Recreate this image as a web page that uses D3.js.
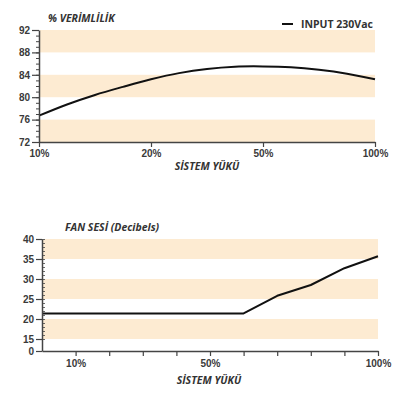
<!DOCTYPE html>
<html>
<head>
<meta charset="utf-8">
<script src="https://cdn.jsdelivr.net/npm/d3@7"></script>
<style>
  body { margin: 0; background: #fff; }
  svg { display: block; font-family: "Open Sans", sans-serif; }
  .tick text { font-size: 10px; font-weight: 700; fill: #3a3a3a; }
</style>
</head>
<body>
<div id="wrapper"></div>
<script>
// efficiency chart
const effTicks = ["10%", "20%", "50%", "100%"];
const effPos = [0, 0.25, 0.5, 0.75, 1, 1.25, 1.5, 1.75, 2, 2.25, 2.5, 2.75, 3];
const effValues = [76.7, 78.7, 80.4, 81.85, 83.2, 84.3, 85.05, 85.45, 85.5, 85.35, 84.9, 84.2, 83.2];
const effYTicks = [72, 76, 80, 84, 88, 92];
const effBands = [[72, 76], [80, 84], [88, 92]];

// fan noise chart
const fanLoad = [0, 60, 70, 80, 90, 100];
const fanValues = [21.4, 21.4, 25.8, 28.5, 32.7, 35.7];
const fanXTicks = [10, 20, 30, 40, 50, 60, 70, 80, 90, 100];
const fanXLabels = { 10: "10%", 50: "50%", 100: "100%" };
const fanYTicks = [0, 15, 20, 25, 30, 35, 40];
const fanBands = [[15, 20], [25, 30], [35, 40]];

const bandColor = "#fdebd2";
const axisColor = "#444";
const textColor = "#333";

const svg = d3.select("#wrapper").append("svg")
  .attr("width", 400)
  .attr("height", 396);

// ---------- top chart ----------
const x1 = d3.scaleLinear().domain([0, 3]).range([39, 375]);
const y1 = d3.scaleLinear().domain([72, 92]).range([142, 30]);

svg.append("g").selectAll("rect")
  .data(effBands)
  .join("rect")
  .attr("x", x1(0) + 1)
  .attr("width", x1(3) - x1(0) - 1)
  .attr("y", d => y1(d[1]))
  .attr("height", d => y1(d[0]) - y1(d[1]))
  .attr("fill", bandColor);

const line1 = d3.line()
  .x((d, i) => x1(effPos[i]))
  .y(d => y1(d))
  .curve(d3.curveCatmullRom);

svg.append("path")
  .attr("d", line1(effValues))
  .attr("fill", "none")
  .attr("stroke", "#111")
  .attr("stroke-width", 2);

// minor y ticks
svg.append("g")
  .attr("transform", `translate(${x1(0)},0)`)
  .call(d3.axisLeft(y1).tickValues(d3.range(72, 93, 1)).tickSize(3).tickFormat(""))
  .call(g => g.select(".domain").remove())
  .call(g => g.selectAll("line").attr("stroke", axisColor));

const yAxis1 = svg.append("g")
  .attr("transform", `translate(${x1(0)},0)`)
  .call(d3.axisLeft(y1).tickValues(effYTicks).tickSize(7).tickSizeOuter(0).tickPadding(2));
yAxis1.select(".domain").attr("stroke", axisColor).attr("stroke-width", 1.5);
yAxis1.selectAll("line").attr("stroke", axisColor).attr("stroke-width", 1.2);

const xAxis1 = svg.append("g")
  .attr("transform", `translate(0,${y1(72)})`)
  .call(d3.axisBottom(x1).tickValues([0, 1, 2, 3]).tickFormat(i => effTicks[i]).tickSize(5).tickSizeOuter(0).tickPadding(3));
xAxis1.select(".domain").attr("stroke", axisColor).attr("stroke-width", 1.5);
xAxis1.selectAll("line").attr("stroke", axisColor).attr("stroke-width", 1.2);

svg.append("text")
  .attr("x", 48).attr("y", 22)
  .attr("font-size", 10.5).attr("font-weight", 700).attr("font-style", "italic")
  .attr("fill", textColor)
  .text("% VERİMLİLİK");

svg.append("text")
  .attr("x", 207).attr("y", 170)
  .attr("text-anchor", "middle")
  .attr("font-size", 10.5).attr("font-weight", 700).attr("font-style", "italic")
  .attr("fill", textColor)
  .text("SİSTEM YÜKÜ");

// legend
svg.append("line")
  .attr("x1", 282).attr("x2", 293).attr("y1", 24).attr("y2", 24)
  .attr("stroke", "#111").attr("stroke-width", 2);
svg.append("text")
  .attr("x", 301).attr("y", 28)
  .attr("font-size", 10.5).attr("font-weight", 700)
  .attr("fill", textColor)
  .text("INPUT 230Vac");

// ---------- bottom chart ----------
const x2 = d3.scaleLinear().domain([0, 100]).range([42, 378]);
const y2 = d3.scaleLinear().domain([0, 15, 40]).range([351, 339, 239]);

svg.append("g").selectAll("rect")
  .data(fanBands)
  .join("rect")
  .attr("x", x2(0) + 1)
  .attr("width", x2(100) - x2(0) - 1)
  .attr("y", d => y2(d[1]))
  .attr("height", d => y2(d[0]) - y2(d[1]))
  .attr("fill", bandColor);

const line2 = d3.line()
  .x((d, i) => x2(fanLoad[i]))
  .y(d => y2(d));

svg.append("path")
  .attr("d", line2(fanValues))
  .attr("fill", "none")
  .attr("stroke", "#111")
  .attr("stroke-width", 2)
  .attr("stroke-linejoin", "round");

// minor y ticks (inside)
svg.append("g")
  .attr("transform", `translate(${x2(0)},0)`)
  .call(d3.axisRight(y2).tickValues(d3.range(15, 41, 1)).tickSize(3).tickFormat(""))
  .call(g => g.select(".domain").remove())
  .call(g => g.selectAll("line").attr("stroke", axisColor).attr("stroke-width", 0.8));

const yAxis2 = svg.append("g")
  .attr("transform", `translate(${x2(0)},0)`)
  .call(d3.axisLeft(y2).tickValues(fanYTicks).tickSize(6).tickSizeOuter(0).tickPadding(2));
yAxis2.select(".domain").attr("stroke", axisColor).attr("stroke-width", 1.5);
yAxis2.selectAll("line").attr("stroke", axisColor).attr("stroke-width", 1.2);

const xAxis2 = svg.append("g")
  .attr("transform", `translate(0,${y2(0)})`)
  .call(d3.axisBottom(x2).tickValues(fanXTicks).tickFormat(d => fanXLabels[d] || "").tickSize(5).tickSizeOuter(0).tickPadding(4));
xAxis2.select(".domain").attr("stroke", axisColor).attr("stroke-width", 1.5);
xAxis2.selectAll("line").attr("stroke", axisColor).attr("stroke-width", 1.2);

svg.append("text")
  .attr("x", 65).attr("y", 231)
  .attr("font-size", 10.5).attr("font-weight", 700).attr("font-style", "italic")
  .attr("fill", textColor)
  .text("FAN SESİ (Decibels)");

svg.append("text")
  .attr("x", 209).attr("y", 384)
  .attr("text-anchor", "middle")
  .attr("font-size", 10.5).attr("font-weight", 700).attr("font-style", "italic")
  .attr("fill", textColor)
  .text("SİSTEM YÜKÜ");
</script>
</body>
</html>
